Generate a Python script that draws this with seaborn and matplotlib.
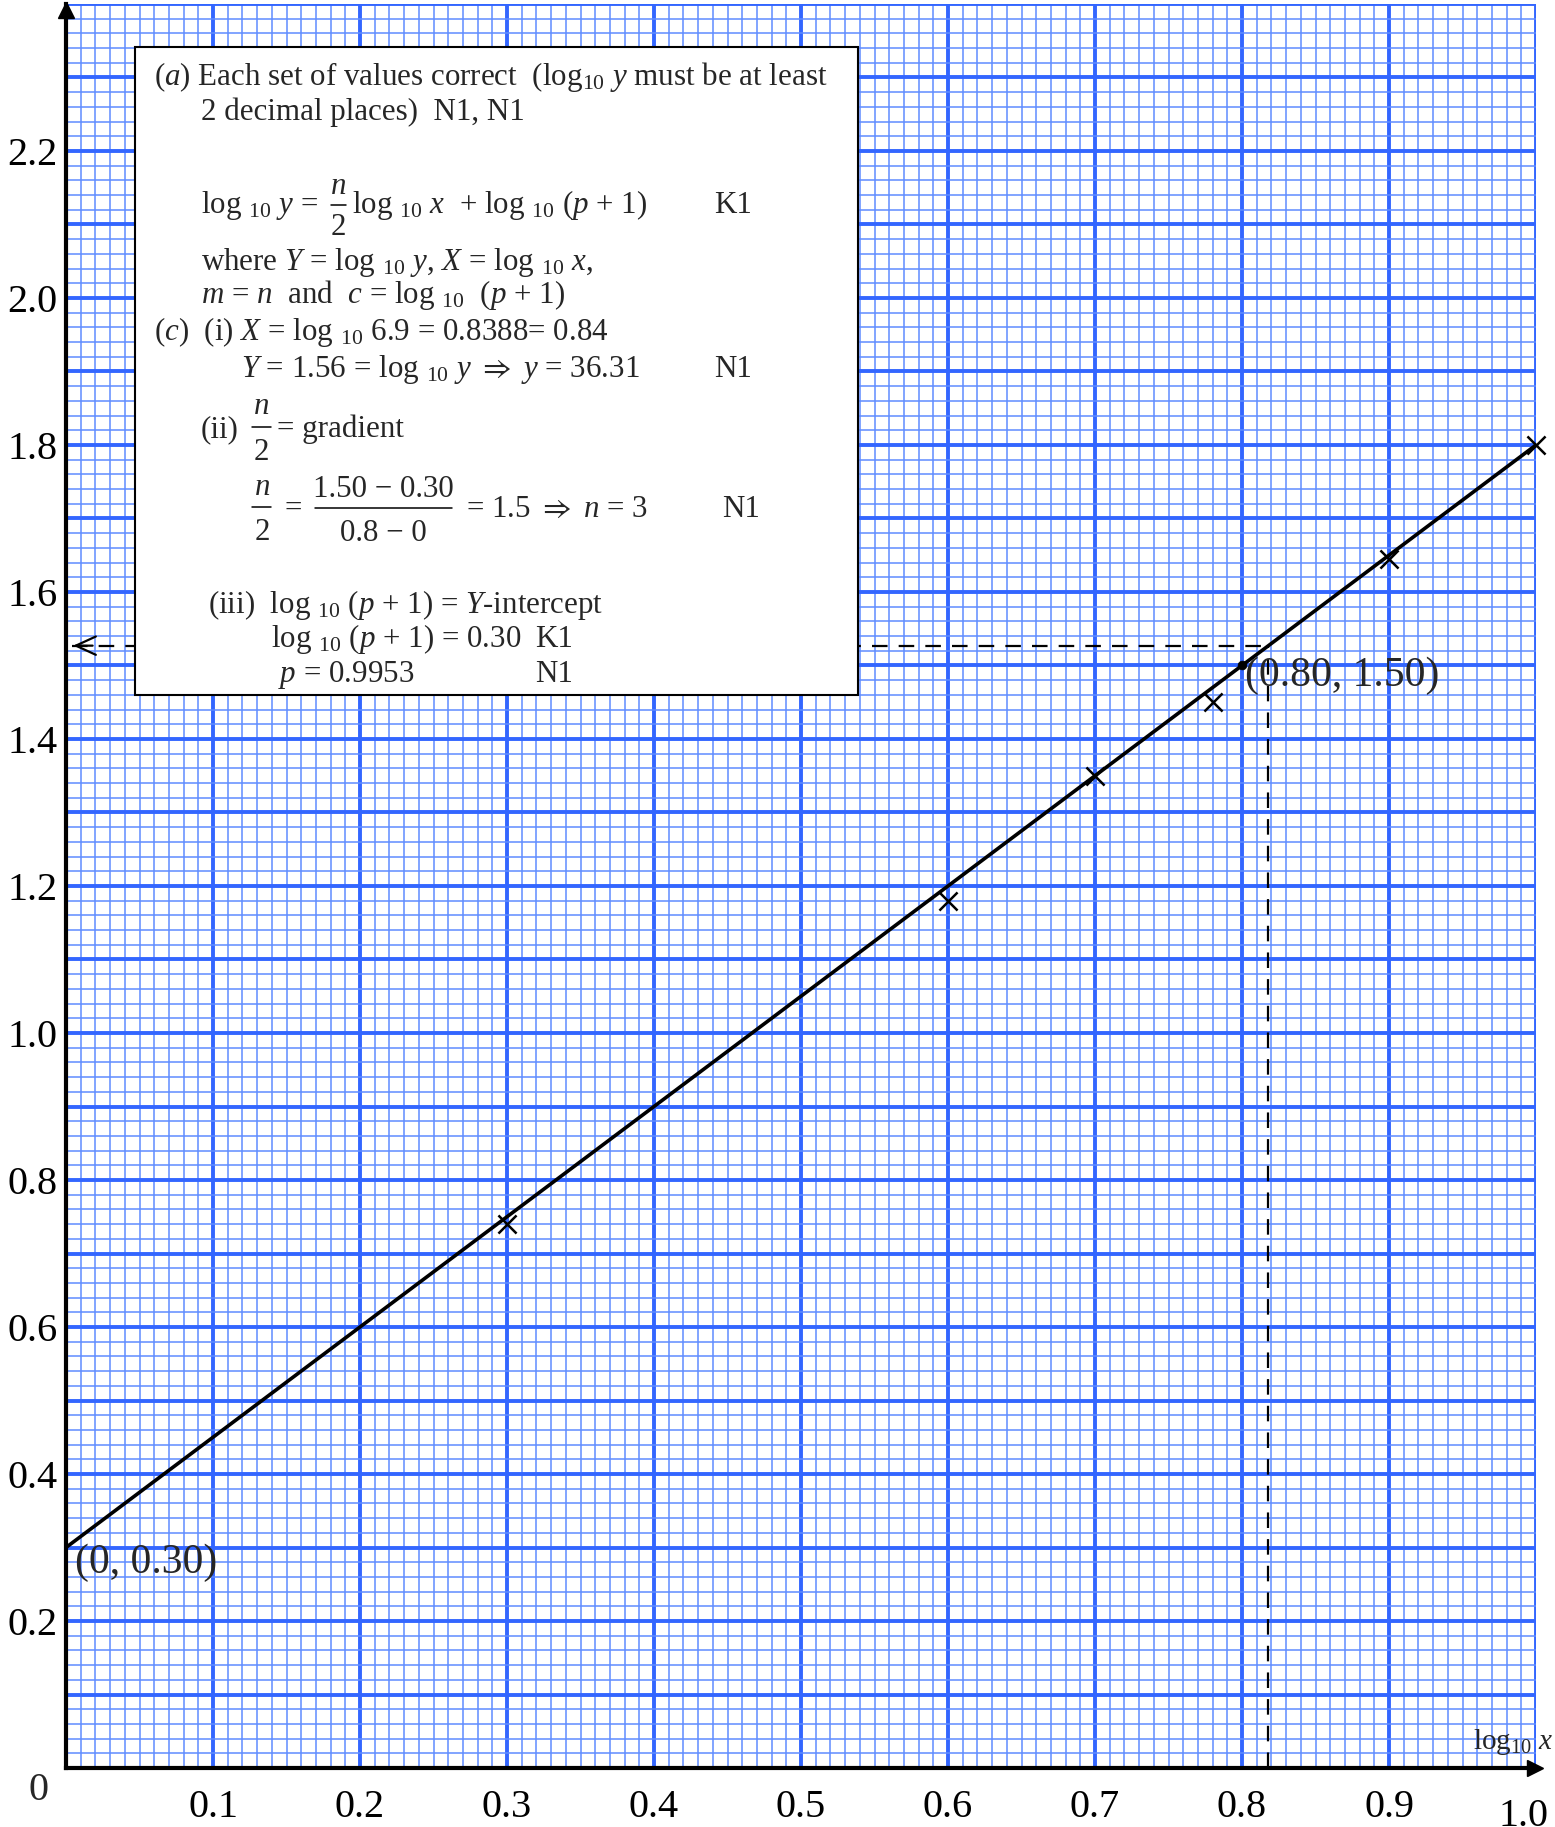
import numpy as np
import pandas as pd
import matplotlib.pyplot as plt
import seaborn as sns
from matplotlib.patches import Rectangle
from matplotlib.lines import Line2D
from matplotlib.transforms import ScaledTranslation

sns.set_theme(style="white")
plt.rcParams['font.family'] = ['Liberation Serif', 'DejaVu Serif']
plt.rcParams['mathtext.fontset'] = 'custom'
plt.rcParams['mathtext.rm'] = 'Liberation Serif'
plt.rcParams['mathtext.it'] = 'Liberation Serif:italic'
plt.rcParams['mathtext.bf'] = 'Liberation Serif:bold'
plt.rcParams['mathtext.fallback'] = 'stix'

# plotted points (X = log10 x, Y = log10 y)
log_x = [0.30, 0.60, 0.70, 0.78, 0.90, 1.00]
log_y = [0.74, 1.18, 1.35, 1.45, 1.645, 1.80]

# line of best fit
fit_x = [0.0, 1.0]
fit_y = [0.30, 1.80]

# points quoted on the line
mark_pts = [(0.80, 1.50), (0.0, 0.30)]
mark_labels = ['(0.80, 1.50)', '(0, 0.30)']

# dashed reading off the line
read_x = 0.818
read_y = 1.527

x_ticks = [0.1, 0.2, 0.3, 0.4, 0.5, 0.6, 0.7, 0.8, 0.9, 1.0]
x_labels = ['0.1', '0.2', '0.3', '0.4', '0.5', '0.6', '0.7', '0.8', '0.9', '1.0']
y_ticks = [0.2, 0.4, 0.6, 0.8, 1.0, 1.2, 1.4, 1.6, 1.8, 2.0, 2.2]
y_labels = ['0.2', '0.4', '0.6', '0.8', '1.0', '1.2', '1.4', '1.6', '1.8', '2.0', '2.2']

W, H = 1555, 1827
fig = plt.figure(figsize=(W / 100, H / 100), dpi=100)
ax = fig.add_axes([66 / W, 59 / H, 1470 / W, 1764 / H])
ax.set_xlim(0, 1.0)
ax.set_ylim(0, 2.4)

# graph paper grid
maj_x = np.round(np.arange(0, 1.001, 0.1), 2)
maj_y = np.round(np.arange(0, 2.401, 0.1), 2)
ax.set_xticks(maj_x)
ax.set_xticklabels([x_labels[x_ticks.index(v)] if v in x_ticks else '' for v in maj_x])
ax.set_yticks(maj_y)
ax.set_yticklabels([y_labels[y_ticks.index(v)] if v in y_ticks else '' for v in maj_y])
ax.set_xticks(np.arange(0, 1.001, 0.01), minor=True)
ax.set_yticks(np.arange(0, 2.401, 0.02), minor=True)
ax.grid(which='minor', color='#5f8cff', lw=1.1)
ax.grid(which='major', color='#3366ff', lw=2.8)
ax.set_axisbelow(True)
ax.tick_params(which='both', length=0)
ax.tick_params(axis='x', pad=15, labelsize=29, colors='black')
ax.tick_params(axis='y', pad=6, labelsize=29, colors='black')

# last x label sits a bit lower
lab = ax.get_xticklabels()[-1]
lab.set_transform(lab.get_transform() + ScaledTranslation(-0.12, -0.09, fig.dpi_scale_trans))

for s in ['top', 'right']:
    ax.spines[s].set_visible(False)
for s in ['left', 'bottom']:
    ax.spines[s].set_color('black')
    ax.spines[s].set_linewidth(3)
    ax.spines[s].set_zorder(6)

# axis arrows
ax.plot([0], [2.392], marker='^', ms=12, color='black', clip_on=False, zorder=7)
ax.plot([0.9995], [0], marker='>', ms=12, color='black', clip_on=False, zorder=7)

# dashed guides
ax.plot([read_x, read_x], [0, read_y], color='black', lw=1.6, ls=(0, (7, 5)), zorder=3)
ax.plot([0.004, read_x], [read_y, read_y], color='black', lw=1.6, ls=(0, (7, 5)), zorder=3)
ax.annotate('', xy=(0.003, read_y), xytext=(0.02, read_y),
            arrowprops=dict(arrowstyle='->,head_length=1.2,head_width=0.55', lw=1.6, color='black'),
            zorder=3)

# fitted line and points
sns.lineplot(x=fit_x, y=fit_y, color='black', lw=2.6, ax=ax, zorder=4)
pts = pd.DataFrame({'X': log_x, 'Y': log_y})
sns.scatterplot(data=pts, x='X', y='Y', marker='x', s=170, color='black', linewidth=1.8, ax=ax, zorder=5)
sns.scatterplot(x=[mark_pts[0][0]], y=[mark_pts[0][1]], s=40, color='black', edgecolor='black', ax=ax, zorder=5)
for c in ax.collections:
    c.set_clip_on(False)
ax.set_xlabel('')
ax.set_ylabel('')

ax.text(mark_pts[0][0] + 0.002, mark_pts[0][1] - 0.014, mark_labels[0], fontsize=30,
        ha='left', va='center', zorder=5)
ax.text(mark_pts[1][0] + 0.006, mark_pts[1][1] - 0.021, mark_labels[1], fontsize=30,
        ha='left', va='center', zorder=5)

# origin and axis names
ax.text(-0.019, -0.030, '0', fontsize=29, ha='center', va='center', clip_on=False)
ax.text(1.012, 0.035, r'log$_{10}$ $x$', fontsize=21, ha='right', va='center', clip_on=False, zorder=6)
fig.text(48 / W, 1 + 4 / H, r'log$_{10}$ $y$', fontsize=21, ha='left', va='bottom')

# working box
ax.add_patch(Rectangle((0.047, 1.460), 0.492, 0.881, facecolor='white',
                       edgecolor='black', lw=1.5, zorder=8))

FS = 22.3


def put(px, py, txt, ha='left', base=10):
    fig.text(px / W, 1 - (py + base) / H, txt, fontsize=FS, ha=ha, va='baseline', zorder=9)


def frac(cx, y_num, y_den, y_bar, x0, x1, num, den, nbase=10):
    put(cx, y_num, num, ha='center', base=nbase)
    put(cx, y_den, den, ha='center')
    fig.add_artist(Line2D([x0 / W, x1 / W], [1 - y_bar / H, 1 - y_bar / H],
                          color='black', lw=1.1, zorder=9))


put(154, 75, r'($a$) Each set of values correct  (log$_{10}$ $y$ must be at least')
put(201, 110, '2 decimal places)  N1, N1')
put(201, 203, r'log $_{10}$ $y$ =')
frac(338, 187, 225, 205, 331, 346, r'$n$', '2', nbase=7)
put(352, 203, r'log $_{10}$ $x$  + log $_{10}$ ($p$ + 1)')
put(714, 203, 'K1')
put(201, 260, r'where $Y$ = log $_{10}$ $y$, $X$ = log $_{10}$ $x$,')
put(201, 293, r'$m$ = $n$  and  $c$ = log $_{10}$  ($p$ + 1)')
put(154, 330, r'($c$)  (i) $X$ = log $_{10}$ 6.9 = 0.8388= 0.84')
put(241, 367, r'$Y$ = 1.56 = log $_{10}$ $y$ $\Rightarrow$ $y$ = 36.31')
put(714, 367, 'N1')
put(201, 427, '(ii)')
frac(261, 407, 450, 427, 252, 271, r'$n$', '2', nbase=7)
put(277, 427, '= gradient')
frac(262, 488, 530, 507, 252, 271, r'$n$', '2', nbase=7)
put(285, 507, '=')
frac(383, 487, 531, 508, 315, 452, '1.50 \u2212 0.30', '0.8 \u2212 0')
put(466, 507, r'= 1.5 $\Rightarrow$ $n$ = 3')
put(722, 507, 'N1')
put(208, 603, r'(iii)  log $_{10}$ ($p$ + 1) = $Y$-intercept')
put(271, 637, r'log $_{10}$ ($p$ + 1) = 0.30')
put(535, 637, 'K1')
put(278, 672, r'$p$ = 0.9953')
put(535, 672, 'N1')

fig.savefig('out.png', dpi=100)
